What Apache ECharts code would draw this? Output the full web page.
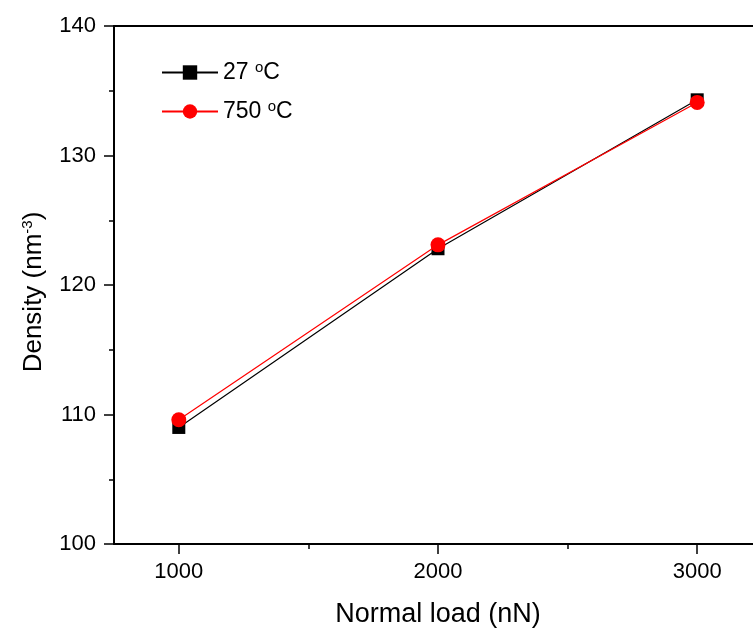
<!DOCTYPE html>
<html>
<head>
<meta charset="utf-8">
<script src="https://cdn.jsdelivr.net/npm/echarts@6/dist/echarts.min.js"></script>
<style>
html,body{margin:0;padding:0;background:#fff;}
#chart{width:753px;height:631px;}
</style>
</head>
<body>
<div id="chart"></div>
<script>
var loads = [1000, 2000, 3000];
var density27 = [109.0, 122.8, 134.3];
var density750 = [109.6, 123.1, 134.1];
var xTicks = [1000, 2000, 3000];
var xMinorTicks = [1500, 2500];
var seriesNames = ['27 °C', '750 °C'];

var font = '"Liberation Sans", Arial, sans-serif';
var chart = echarts.init(document.getElementById('chart'), null, {renderer: 'canvas'});

function pairs(xs, ys) { return xs.map(function (x, i) { return [x, ys[i]]; }); }

var option = {
  animation: false,
  backgroundColor: '#fff',
  grid: {left: 114, top: 26, width: 648, height: 518, containLabel: false, outerBoundsMode: 'none'},
  legend: {
    orient: 'vertical',
    left: 161,
    top: 60,
    padding: 0,
    itemWidth: 56,
    itemHeight: 18,
    itemGap: 11,
    data: [seriesNames[0], seriesNames[1]],
    formatter: function (n) { return n.replace(' °C', ' {sup|o}C'); },
    textStyle: {
      fontFamily: font, fontSize: 23, color: '#000', lineHeight: 25,
      rich: {sup: {fontFamily: font, fontSize: 15, color: '#000', verticalAlign: 'top', lineHeight: 25, padding: [0, 0, 13, 0]}}
    }
  },
  xAxis: [
    {
      type: 'value', position: 'bottom', min: 750, max: 3250,
      splitLine: {show: false},
      axisLine: {show: true, onZero: false, lineStyle: {color: '#000', width: 2}},
      axisTick: {show: true, length: 10, customValues: xTicks, lineStyle: {color: '#000', width: 1.5}},
      axisLabel: {customValues: xTicks, margin: 17, fontFamily: font, fontSize: 22, color: '#000',
        formatter: function (v) { return String(v); }},
      name: 'Normal load (nN)', nameLocation: 'middle', nameGap: 57,
      nameTextStyle: {fontFamily: font, fontSize: 27, color: '#000'}
    },
    {
      type: 'value', position: 'bottom', min: 750, max: 3250,
      splitLine: {show: false},
      axisLine: {show: false, onZero: false},
      axisTick: {show: true, length: 5, customValues: xMinorTicks, lineStyle: {color: '#000', width: 1.5}},
      axisLabel: {show: false}
    },
    {
      type: 'value', position: 'top', min: 750, max: 3250,
      splitLine: {show: false},
      axisLine: {show: true, onZero: false, lineStyle: {color: '#000', width: 2}},
      axisTick: {show: false},
      axisLabel: {show: false}
    }
  ],
  yAxis: {
    type: 'value', min: 100, max: 140, interval: 10,
    splitLine: {show: false},
    axisLine: {show: true, onZero: false, lineStyle: {color: '#000', width: 2}},
    axisTick: {show: true, length: 10, lineStyle: {color: '#000', width: 1.5}},
    minorTick: {show: true, splitNumber: 2, length: 5, lineStyle: {color: '#000', width: 1.5}},
    axisLabel: {margin: 18, fontFamily: font, fontSize: 22, color: '#000'},
    name: 'Density (nm{sup|-3})', nameLocation: 'middle', nameRotate: 90, nameGap: 66,
    nameTextStyle: {
      fontFamily: font, fontSize: 26, color: '#000', lineHeight: 26, padding: [0, 14, 0, 0],
      rich: {sup: {fontFamily: font, fontSize: 15, color: '#000', verticalAlign: 'top', lineHeight: 26, padding: [0, 0, 13, 0]}}
    }
  },
  series: [
    {
      name: seriesNames[0], type: 'line', xAxisIndex: 0,
      data: pairs(loads, density27),
      symbol: 'rect', symbolSize: 13,
      lineStyle: {color: '#000', width: 1.2},
      itemStyle: {color: '#000'},
      z: 2
    },
    {
      name: seriesNames[1], type: 'line', xAxisIndex: 0,
      data: pairs(loads, density750),
      symbol: 'circle', symbolSize: 15,
      lineStyle: {color: '#ff0000', width: 1.2},
      itemStyle: {color: '#ff0000'},
      z: 3
    }
  ]
};
chart.setOption(option);
</script>
</body>
</html>
